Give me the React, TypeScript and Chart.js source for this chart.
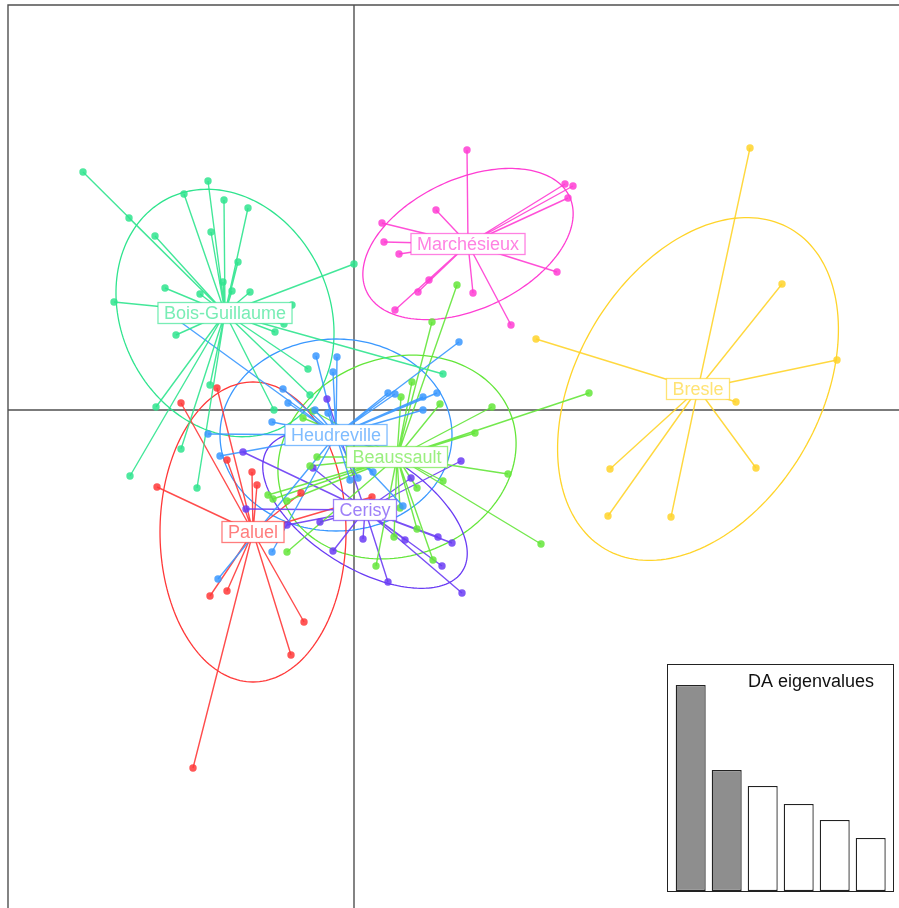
import React, { useEffect, useRef } from "react";
import { Chart, registerables } from "chart.js";
Chart.register(...registerables);

// ---- Groups (DAPC scatter, LD1 x LD2) ----
const groupNames = ["Bois-Guillaume", "Marchésieux", "Bresle", "Heudreville", "Beaussault", "Cerisy", "Paluel"];
const groupColors = ["#2FE48E", "#FF3DD3", "#FFD42A", "#3A98FF", "#64E63A", "#6A3CF4", "#FF3838"];
const centroidX = [-2.58, 2.28, 6.88, -0.36, 0.86, 0.22, -2.02];
const centroidY = [1.94, 3.32, 0.42, -0.5, -0.94, -2.0, -2.44];
// inertia ellipses: semi-axes and rotation (degrees)
const ellipseA = [2.56, 2.24, 3.7, 2.32, 2.43, 2.3, 3.0];
const ellipseB = [2.08, 1.3, 2.44, 1.92, 1.98, 1.16, 1.86];
const ellipseAngle = [-64, 25, 60, 0, 20, -32, 90];

const boisGuillaume = [
  [-5.42, 4.76], [-2.92, 4.58], [-3.4, 4.32], [-2.6, 4.2], [-2.12, 4.04], [-4.5, 3.84], [-3.98, 3.48],
  [-2.86, 3.56], [-2.32, 2.96], [0.0, 2.92], [-2.62, 2.56], [-3.78, 2.44], [-3.08, 2.32], [-2.44, 2.38],
  [-2.08, 2.36], [-4.8, 2.16], [-1.24, 2.1], [-1.4, 1.72], [-3.56, 1.5], [-1.58, 1.56], [-0.92, 0.82],
  [-1.6, 0.0], [-3.96, 0.06], [-2.88, 0.5], [-3.46, -0.78], [-4.48, -1.32], [-3.14, -1.56], [1.78, 0.72],
  [-0.88, 0.3],
];
const marchesieux = [
  [2.26, 5.2], [4.22, 4.52], [4.38, 4.48], [4.28, 4.24], [1.64, 4.0], [0.56, 3.74], [0.6, 3.36],
  [0.9, 3.12], [4.06, 2.76], [1.5, 2.6], [1.28, 2.36], [2.38, 2.34], [0.82, 2.0], [3.14, 1.7],
];
const bresle = [
  [7.92, 5.24], [8.56, 2.52], [3.64, 1.42], [9.66, 1.0], [7.64, 0.16], [5.12, -1.18], [8.04, -1.16],
  [5.08, -2.12], [6.34, -2.14],
];
const heudreville = [
  [-0.76, 1.08], [-0.34, 1.06], [-0.42, 0.76], [-1.42, 0.42], [-1.32, 0.14], [-1.64, -0.24], [-0.78, 0.0],
  [-0.52, -0.06], [0.68, 0.34], [0.82, 0.32], [1.38, 0.26], [1.66, 0.34], [1.38, 0.0], [2.1, 1.36],
  [-2.92, -0.48], [-2.68, -0.92], [-1.64, -2.84], [-2.72, -3.38], [-0.08, -1.4], [0.08, -1.36],
  [0.38, -1.24], [0.98, -1.92], [-3.58, 1.84],
];
const beaussault = [
  [2.06, 2.5], [1.56, 1.76], [4.7, 0.34], [3.74, -2.68], [1.16, 0.56], [0.94, 0.26], [1.72, 0.12],
  [2.76, 0.06], [2.42, -0.46], [3.08, -1.28], [1.78, -1.42], [1.26, -1.56], [0.92, -1.96], [1.26, -2.38],
  [0.8, -2.54], [1.58, -3.0], [0.44, -3.12], [-1.34, -2.84], [-0.74, -0.94], [-0.88, -1.12],
  [-1.72, -1.7], [-1.62, -1.78], [-1.34, -1.82], [-0.82, -0.02], [-1.02, -0.16],
];
const cerisy = [
  [-0.54, 0.22], [-2.22, -0.84], [-0.82, -1.16], [-2.16, -1.98], [-1.34, -2.3], [-0.68, -2.24],
  [-0.42, -2.82], [0.18, -2.58], [0.68, -3.44], [1.14, -1.36], [2.14, -1.02], [1.02, -2.6],
  [1.68, -2.54], [1.96, -2.66], [1.76, -3.12], [2.16, -3.66],
];
const paluel = [
  [-2.74, 0.44], [-3.46, 0.14], [-2.54, -1.0], [-2.04, -1.24], [-1.94, -1.5], [-3.94, -1.54],
  [-1.06, -1.66], [0.36, -1.74], [-2.88, -3.72], [-2.54, -3.62], [-1.0, -4.24], [-1.26, -4.9],
  [-3.22, -7.16],
];
const groupPoints = [boisGuillaume, marchesieux, bresle, heudreville, beaussault, cerisy, paluel];

// visible axis ranges (LD1, LD2); the plot frame continues past the right and bottom edges
const xMin = -6.92, xMax = 10.9;
const yMin = -9.96, yMax = 8.1;

// ---- DA eigenvalues inset ----
const eigenLabels = ["1", "2", "3", "4", "5", "6"];
const eigenValues = [20.6, 12.1, 10.5, 8.7, 7.1, 5.3];
const eigenRetained = 2;
const eigenMax = 22.6;

const FONT = "'Liberation Sans', Arial, Helvetica, sans-serif";

function rgba(hex: string, a: number) {
  const n = parseInt(hex.slice(1), 16);
  return `rgba(${(n >> 16) & 255},${(n >> 8) & 255},${n & 255},${a})`;
}

const decorPlugin = {
  id: "dapcDecor",
  beforeDatasetsDraw(chart: any) {
    const { ctx, chartArea, scales } = chart;
    const xs = scales.x, ys = scales.y;
    ctx.save();
    const x0 = xs.getPixelForValue(0), y0 = ys.getPixelForValue(0);
    ctx.strokeStyle = "#505050";
    ctx.lineWidth = 1.4;
    ctx.beginPath();
    ctx.moveTo(x0, chartArea.top); ctx.lineTo(x0, chartArea.bottom);
    ctx.moveTo(chartArea.left, y0); ctx.lineTo(chartArea.right, y0);
    ctx.stroke();
    groupNames.forEach((_, i) => {
      const th = (ellipseAngle[i] * Math.PI) / 180;
      ctx.beginPath();
      for (let k = 0; k <= 180; k++) {
        const t = (k / 180) * Math.PI * 2;
        const dx = ellipseA[i] * Math.cos(t), dy = ellipseB[i] * Math.sin(t);
        const vx = centroidX[i] + dx * Math.cos(th) - dy * Math.sin(th);
        const vy = centroidY[i] + dx * Math.sin(th) + dy * Math.cos(th);
        const px = xs.getPixelForValue(vx), py = ys.getPixelForValue(vy);
        if (k === 0) ctx.moveTo(px, py); else ctx.lineTo(px, py);
      }
      ctx.closePath();
      ctx.strokeStyle = groupColors[i];
      ctx.lineWidth = 1.3;
      ctx.stroke();
    });
    ctx.restore();
  },
  afterDatasetsDraw(chart: any) {
    const { ctx, scales } = chart;
    ctx.save();
    ctx.font = `18px ${FONT}`;
    ctx.textAlign = "center";
    ctx.textBaseline = "middle";
    groupNames.forEach((name, i) => {
      const cx = scales.x.getPixelForValue(centroidX[i]);
      const cy = scales.y.getPixelForValue(centroidY[i]);
      const w = ctx.measureText(name).width + 12;
      const h = 21;
      ctx.fillStyle = "#ffffff";
      ctx.fillRect(cx - w / 2, cy - h / 2, w, h);
      ctx.strokeStyle = rgba(groupColors[i], 0.65);
      ctx.lineWidth = 1.3;
      ctx.strokeRect(cx - w / 2, cy - h / 2, w, h);
      ctx.fillStyle = rgba(groupColors[i], 0.65);
      ctx.fillText(name, cx, cy + 1);
    });
    ctx.restore();
  },
  afterDraw(chart: any) {
    const { ctx, chartArea } = chart;
    ctx.save();
    ctx.strokeStyle = "#505050";
    ctx.lineWidth = 1.4;
    ctx.beginPath();
    ctx.moveTo(chartArea.left, chartArea.bottom + 5);
    ctx.lineTo(chartArea.left, chartArea.top);
    ctx.lineTo(chartArea.right + 5, chartArea.top);
    ctx.stroke();
    ctx.restore();
  },
};

const insetTitlePlugin = {
  id: "insetTitle",
  afterDraw(chart: any) {
    const { ctx } = chart;
    ctx.save();
    ctx.font = `18px ${FONT}`;
    ctx.fillStyle = "#111";
    ctx.textAlign = "right";
    ctx.textBaseline = "middle";
    ctx.fillText("DA eigenvalues", 206, 17);
    ctx.restore();
  },
};

export default function App() {
  const mainRef = useRef<HTMLCanvasElement>(null);
  const insetRef = useRef<HTMLCanvasElement>(null);

  useEffect(() => {
    const datasets: any[] = [];
    groupNames.forEach((name, i) => {
      const seg: any[] = [];
      groupPoints[i].forEach(([px, py]) => {
        seg.push({ x: centroidX[i], y: centroidY[i] });
        seg.push({ x: px, y: py });
        seg.push({ x: px, y: null });
      });
      datasets.push({
        label: name + " links",
        data: seg,
        showLine: true,
        spanGaps: false,
        borderColor: rgba(groupColors[i], 0.9),
        borderWidth: 1.4,
        pointRadius: 0,
        order: 2,
      });
      datasets.push({
        label: name,
        data: groupPoints[i].map(([px, py]) => ({ x: px, y: py })),
        showLine: false,
        backgroundColor: rgba(groupColors[i], 0.85),
        borderColor: rgba(groupColors[i], 0.85),
        borderWidth: 0,
        pointRadius: 3.7,
        order: 1,
      });
    });

    const main = new Chart(mainRef.current!, {
      type: "scatter",
      data: { datasets },
      options: {
        animation: false,
        responsive: false,
        devicePixelRatio: 1,
        events: [],
        layout: { autoPadding: false, padding: { left: 8, top: 5, right: 0, bottom: 0 } },
        plugins: { legend: { display: false }, tooltip: { enabled: false } },
        scales: {
          x: { type: "linear", min: xMin, max: xMax, display: false },
          y: { type: "linear", min: yMin, max: yMax, display: false },
        },
      },
      plugins: [decorPlugin],
    } as any);

    const inset = new Chart(insetRef.current!, {
      type: "bar",
      data: {
        labels: eigenLabels,
        datasets: [
          {
            data: eigenValues,
            backgroundColor: eigenValues.map((_, i) => (i < eigenRetained ? "#8e8e8e" : "#ffffff")),
            borderColor: "#222",
            borderWidth: 1.3,
            borderSkipped: false,
            barPercentage: 30 / 36,
            categoryPercentage: 1,
          },
        ],
      },
      options: {
        animation: false,
        responsive: false,
        devicePixelRatio: 1,
        events: [],
        layout: { autoPadding: false, padding: { left: 4.7, right: 4.3, top: 0, bottom: 0 } },
        plugins: { legend: { display: false }, tooltip: { enabled: false } },
        scales: {
          x: { display: false },
          y: { display: false, min: 0, max: eigenMax },
        },
      },
      plugins: [insetTitlePlugin],
    } as any);

    return () => {
      main.destroy();
      inset.destroy();
    };
  }, []);

  return (
    <div style={{ position: "absolute", left: 0, top: 0, width: 899, height: 908, overflow: "hidden", background: "#fff" }}>
      <canvas ref={mainRef} width={899} height={908} style={{ display: "block", width: 899, height: 908 }} />
      <div
        style={{
          position: "absolute", left: 667, top: 664, width: 227, height: 228,
          boxSizing: "border-box", border: "1px solid #222", background: "#fff",
        }}
      >
        <canvas ref={insetRef} width={225} height={226} style={{ display: "block", width: 225, height: 226 }} />
      </div>
    </div>
  );
}
